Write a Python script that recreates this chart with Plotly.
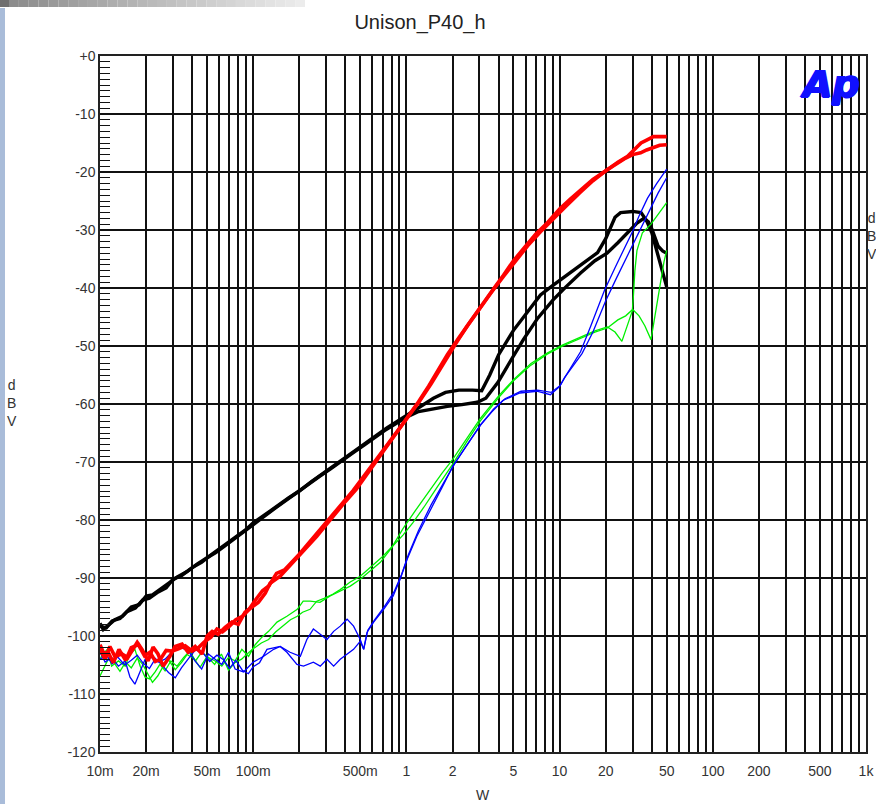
import plotly.graph_objects as go

# ---------------------------------------------------------------- data (W, dBV)
BLACK_A_W = [0.01, 0.011, 0.012, 0.0135, 0.015, 0.017, 0.019, 0.021, 0.024, 0.027, 0.03, 0.034,
             0.04, 0.046, 0.052, 0.06, 0.07, 0.08, 0.09, 0.1, 0.12, 0.14, 0.17, 0.2, 0.24, 0.28,
             0.33, 0.4, 0.47, 0.55, 0.65, 0.75, 0.85, 1.0, 1.2, 1.5, 1.8, 2.2, 2.7, 3.1, 3.5, 4.0,
             5.0, 6.0, 7.5, 9.0, 11.3, 14, 17.7, 20, 21.5, 23, 25, 30, 34, 37, 40, 43, 46, 50]
BLACK_A_DB = [-98.3, -98.6, -97.4, -97.0, -95.8, -95.2, -93.8, -93.5, -92.4, -91.7, -90.2, -89.6,
              -88.2, -87.3, -86.2, -85.0, -83.8, -82.6, -81.6, -80.5, -79.1, -77.8, -76.2, -75.0,
              -73.4, -72.1, -70.8, -69.2, -67.9, -66.6, -65.2, -64.1, -63.2, -62.0, -60.6, -59.0,
              -58.0, -57.6, -57.6, -57.7, -55.0, -51.5, -47.3, -44.5, -41.2, -39.6, -37.7, -35.9,
              -33.9, -31.5, -29.5, -27.8, -27.0, -26.8, -27.0, -28.4, -30.5, -33.5, -36.8, -39.8]

BLACK_B_W = [0.01, 0.0105, 0.0115, 0.0125, 0.014, 0.016, 0.018, 0.02, 0.022, 0.025, 0.028, 0.032,
             0.037, 0.043, 0.05, 0.057, 0.065, 0.075, 0.085, 0.1, 0.115, 0.135, 0.16, 0.19, 0.23,
             0.27, 0.32, 0.38, 0.45, 0.53, 0.62, 0.72, 0.85, 1.0, 1.2, 1.5, 1.85, 2.3, 2.9, 3.3,
             3.95, 4.8, 5.8, 7.2, 9.1, 11, 13.7, 17, 20.4, 24, 28.9, 32, 35.5, 38, 40, 42, 44, 47, 50]
BLACK_B_DB = [-97.8, -98.9, -98.0, -97.2, -96.6, -95.0, -94.6, -93.1, -92.9, -91.9, -91.0, -89.8,
              -88.9, -87.6, -86.5, -85.6, -84.5, -83.3, -82.3, -80.8, -79.6, -78.2, -76.8, -75.3,
              -73.8, -72.5, -71.2, -69.7, -68.4, -67.1, -65.8, -64.6, -63.4, -62.3, -61.3, -60.8,
              -60.4, -60.1, -59.7, -59.0, -56.3, -52.5, -48.9, -45.2, -42.0, -39.8, -37.4, -35.3,
              -34.0, -32.2, -30.0, -28.8, -28.0, -28.6, -29.8, -31.5, -32.8, -33.6, -34.0]

RED_A_W = [0.01, 0.0108, 0.0116, 0.0125, 0.0139, 0.0152, 0.0175, 0.0188, 0.0206, 0.0222, 0.0239,
           0.0258, 0.0286, 0.0309, 0.0343, 0.0376, 0.0418, 0.0464, 0.050, 0.054, 0.059, 0.0656,
           0.0727, 0.080, 0.0885, 0.0985, 0.108, 0.12, 0.129, 0.15, 0.169, 0.194, 0.23, 0.26, 0.3,
           0.35, 0.4, 0.47, 0.55, 0.65, 0.78, 0.9, 1.0, 1.2, 1.4, 1.6, 1.85, 2.2, 2.6, 3.04, 3.6,
           4.3, 5.0, 6.0, 7.0, 8.3, 10, 11.7, 13.7, 16.5, 20.5, 24, 27.8, 31, 34, 37, 41, 45, 50]
RED_A_DB = [-102.3, -104.0, -101.8, -103.5, -103.1, -103.7, -101.1, -102.3, -104.3, -101.9, -103.1,
            -105.2, -103.5, -101.8, -101.4, -102.8, -101.8, -103.1, -100.0, -99.2, -99.7, -98.5,
            -97.6, -98.0, -95.9, -95.0, -94.2, -92.6, -90.9, -89.7, -88.2, -86.6, -84.3, -82.8,
            -80.8, -78.6, -76.8, -74.7, -72.2, -69.5, -66.6, -64.1, -62.5, -59.6, -56.9, -54.4,
            -51.5, -48.6, -45.8, -43.2, -40.6, -37.8, -35.3, -32.8, -30.7, -28.8, -26.4, -24.7,
            -23.1, -21.3, -19.6, -18.3, -17.3, -16.0, -15.0, -14.5, -13.9, -13.9, -13.9]

RED_B_W = [0.01, 0.0106, 0.0113, 0.0122, 0.0133, 0.0147, 0.016, 0.0178, 0.0195, 0.0212, 0.023,
           0.0248, 0.027, 0.0295, 0.0325, 0.036, 0.04, 0.044, 0.048, 0.053, 0.058, 0.063, 0.07,
           0.077, 0.085, 0.094, 0.104, 0.115, 0.127, 0.142, 0.16, 0.18, 0.2, 0.23, 0.27, 0.32,
           0.38, 0.45, 0.53, 0.62, 0.72, 0.85, 1.0, 1.2, 1.45, 1.75, 2.1, 2.5, 3.0, 3.6, 4.3, 5.1,
           6.2, 7.5, 9.0, 11, 13.5, 16.5, 20, 24, 27, 30, 33.8, 37, 41, 45, 50]
RED_B_DB = [-101.5, -103.0, -102.8, -104.6, -102.3, -104.2, -102.0, -101.5, -103.4, -102.8, -104.4,
            -104.0, -102.5, -102.6, -102.2, -101.7, -102.6, -102.0, -101.0, -100.2, -98.8, -99.3,
            -98.3, -97.2, -96.6, -95.4, -93.7, -92.2, -91.3, -89.2, -88.6, -87.2, -85.9, -84.0,
            -81.8, -79.6, -77.3, -74.9, -72.4, -70.0, -67.7, -65.1, -62.7, -59.8, -56.5, -52.9,
            -49.6, -46.5, -43.5, -40.7, -38.0, -35.5, -32.7, -30.3, -28.1, -25.9, -23.6, -21.5,
            -19.8, -18.4, -17.6, -17.0, -16.7, -16.2, -15.7, -15.4, -15.3]

GREEN_A_W = [0.01, 0.0105, 0.0112, 0.0119, 0.0132, 0.0146, 0.0157, 0.0169, 0.0183, 0.0197, 0.0211,
             0.0229, 0.0246, 0.0266, 0.029, 0.0318, 0.0352, 0.0385, 0.042, 0.0461, 0.051, 0.0564,
             0.0624, 0.069, 0.0762, 0.0843, 0.0933, 0.103, 0.114, 0.126, 0.143, 0.166, 0.194,
             0.212, 0.235, 0.273, 0.318, 0.37, 0.43, 0.5, 0.582, 0.676, 0.8, 0.95, 1.15, 1.43, 1.7,
             2.0, 2.5, 3.04, 4.0, 5.0, 6.5, 8.3, 10.5, 13.7, 17, 20.5, 23, 25.5, 28.5, 29.8, 30.3,
             31, 32, 34.7, 39.5, 44, 50]
GREEN_A_DB = [-104.0, -103.0, -102.3, -105.2, -104.3, -105.2, -103.1, -102.3, -105.2, -107.1,
              -107.4, -106.2, -104.9, -106.0, -104.3, -105.2, -103.7, -102.6, -104.3, -102.8,
              -103.7, -104.3, -105.2, -103.7, -104.3, -102.3, -103.5, -101.5, -100.2, -99.2, -97.6,
              -96.6, -95.4, -94.0, -94.0, -94.2, -93.1, -92.3, -91.4, -90.2, -88.8, -87.3, -84.8,
              -81.5, -78.3, -74.7, -72.0, -69.6, -65.8, -62.5, -58.6, -55.8, -53.0, -51.2, -49.8,
              -48.4, -47.4, -46.7, -47.6, -49.2, -45.5, -44.0, -41.5, -37.0, -33.5, -30.5, -29.0,
              -27.3, -25.3]

GREEN_B_W = [0.01, 0.0106, 0.0115, 0.0125, 0.0135, 0.0147, 0.016, 0.0175, 0.019, 0.0205, 0.022,
             0.0238, 0.026, 0.028, 0.031, 0.034, 0.037, 0.041, 0.045, 0.05, 0.056, 0.062, 0.069,
             0.076, 0.084, 0.0912, 0.1, 0.113, 0.126, 0.14, 0.155, 0.175, 0.194, 0.21, 0.235, 0.26,
             0.29, 0.33, 0.37, 0.43, 0.5, 0.59, 0.7, 0.82, 0.95, 1.1, 1.3, 1.6, 2.0, 2.5, 3.04, 4.0,
             5.0, 6.5, 8.3, 10.5, 13.7, 17, 20.5, 24, 27, 30, 33, 36, 39.5, 42, 45.7, 48, 50]
GREEN_B_DB = [-106.9, -105.5, -103.6, -104.8, -106.1, -104.5, -105.5, -103.8, -104.9, -106.5,
              -108.0, -106.9, -105.1, -104.1, -105.8, -104.6, -103.2, -103.9, -105.4, -103.5,
              -104.9, -103.1, -105.9, -104.6, -104.0, -103.1, -102.2, -101.2, -100.6, -99.3, -98.3,
              -97.2, -96.6, -95.9, -95.4, -94.0, -93.5, -92.8, -92.0, -90.7, -89.7, -88.0, -86.3,
              -84.4, -82.6, -80.5, -77.8, -74.2, -70.4, -66.3, -62.9, -58.9, -56.0, -53.3, -51.4,
              -50.0, -48.6, -47.6, -46.9, -45.5, -44.8, -43.7, -44.8, -46.5, -48.9, -44.5, -39.0,
              -35.5, -33.5]

BLUE_A_W = [0.01, 0.0108, 0.0119, 0.0132, 0.0146, 0.0157, 0.0169, 0.0183, 0.0197, 0.0218, 0.024,
            0.0266, 0.0294, 0.0333, 0.0378, 0.0417, 0.0461, 0.051, 0.0564, 0.0624, 0.069, 0.0762,
            0.0865, 0.1, 0.117, 0.136, 0.15, 0.166, 0.193, 0.213, 0.247, 0.274, 0.303, 0.335, 0.37,
            0.41, 0.452, 0.5, 0.526, 0.553, 0.611, 0.71, 0.82, 0.91, 1.01, 1.17, 1.43, 1.7, 2.0,
            2.5, 3.04, 3.6, 4.26, 5.5, 7.1, 8.7, 10, 10.6, 12, 13.7, 16, 19.7, 23, 26.4, 30, 33,
            37.5, 43, 50]
BLUE_A_DB = [-102.8, -104.5, -103.7, -105.2, -104.3, -107.1, -108.3, -106.2, -104.0, -103.7, -104.5,
             -104.0, -102.8, -101.9, -102.6, -104.3, -105.7, -103.1, -104.0, -104.9, -102.8, -105.7,
             -106.2, -104.5, -103.5, -102.3, -101.8, -102.8, -104.9, -105.2, -104.5, -105.2, -104.0,
             -105.2, -104.0, -103.1, -102.3, -100.9, -102.3, -99.4, -97.6, -95.4, -93.1, -90.2,
             -86.8, -82.8, -78.2, -74.5, -70.8, -67.0, -63.6, -61.4, -59.4, -58.1, -57.8, -58.4,
             -57.0, -55.8, -53.5, -51.0, -46.5, -40.3, -36.5, -33.2, -30.2, -27.6, -24.5, -22.0,
             -19.5]

BLUE_B_W = [0.01, 0.011, 0.012, 0.013, 0.0145, 0.016, 0.0175, 0.019, 0.021, 0.023, 0.025, 0.028,
            0.031, 0.034, 0.038, 0.042, 0.047, 0.052, 0.058, 0.064, 0.07, 0.077, 0.085, 0.093, 0.1,
            0.11, 0.123, 0.15, 0.174, 0.203, 0.224, 0.247, 0.274, 0.303, 0.335, 0.37, 0.41, 0.452,
            0.5, 0.526, 0.56, 0.62, 0.72, 0.83, 0.93, 1.03, 1.2, 1.45, 1.75, 2.1, 2.6, 3.1, 3.7,
            4.4, 5.6, 7.2, 8.8, 10.1, 10.8, 12.2, 14, 16.5, 20, 23.5, 27, 30.5, 34, 38, 44, 50]
BLUE_B_DB = [-104.0, -103.3, -104.8, -103.6, -105.0, -104.2, -103.3, -104.6, -105.6, -103.9, -104.8,
             -106.3, -107.2, -105.5, -103.8, -102.4, -102.9, -104.4, -103.3, -104.1, -105.6, -104.2,
             -105.9, -106.5, -105.3, -104.6, -102.3, -101.8, -102.8, -103.5, -100.6, -98.8, -99.7,
             -100.6, -99.2, -98.3, -97.1, -98.3, -100.6, -102.3, -99.0, -97.2, -94.9, -92.4, -89.4,
             -86.0, -81.8, -77.4, -73.6, -70.0, -66.3, -63.4, -60.9, -59.1, -57.8, -57.6, -58.0,
             -56.8, -55.4, -53.4, -51.3, -47.6, -42.2, -38.3, -35.0, -32.2, -29.6, -26.8, -23.6,
             -21.0]

# axis labelling
X_LABELED = {0.01: "10m", 0.02: "20m", 0.05: "50m", 0.1: "100m", 0.5: "500m", 1: "1", 2: "2",
             5: "5", 10: "10", 20: "20", 50: "50", 100: "100", 200: "200", 500: "500", 1000: "1k"}
Y_TICK_VALUES = [0, -10, -20, -30, -40, -50, -60, -70, -80, -90, -100, -110, -120]
Y_TICK_TEXT = ["+0", "-10", "-20", "-30", "-40", "-50", "-60", "-70", "-80", "-90", "-100",
               "-110", "-120"]
TITLE = "Unison_P40_h"

# ---------------------------------------------------------------- figure
W_PX, H_PX = 876, 804
M_L, M_R, M_T, M_B = 100, 10, 56, 52
PLOT_W, PLOT_H = W_PX - M_L - M_R, H_PX - M_T - M_B


def px_x(x):
    return (x - M_L) / PLOT_W


def px_y(y):
    return (H_PX - M_B - y) / PLOT_H


FONT = "Liberation Sans, Arial, sans-serif"

fig = go.Figure()

series = [
    (BLACK_A_W, BLACK_A_DB, "#000000", 3.4),
    (BLACK_B_W, BLACK_B_DB, "#000000", 3.4),
    (GREEN_A_W, GREEN_A_DB, "#00f000", 1.3),
    (GREEN_B_W, GREEN_B_DB, "#00f000", 1.3),
    (BLUE_A_W, BLUE_A_DB, "#0000ff", 1.3),
    (BLUE_B_W, BLUE_B_DB, "#0000ff", 1.3),
    (RED_A_W, RED_A_DB, "#ff0000", 3.6),
    (RED_B_W, RED_B_DB, "#ff0000", 3.6),
]
for xs, ys, col, lw in series:
    fig.add_trace(go.Scatter(x=xs, y=ys, mode="lines",
                             line=dict(color=col, width=lw), hoverinfo="skip"))

x_grid = [m * 10 ** d for d in range(-2, 3) for m in range(1, 10)] + [1000]
x_text = []
for v in x_grid:
    lab = ""
    for k, t in X_LABELED.items():
        if abs(v - k) < 1e-9 * max(1, k):
            lab = t
    x_text.append(lab)

fig.update_xaxes(
    type="log", range=[-2, 3], tickvals=x_grid, ticktext=x_text, automargin=False,
    showgrid=True, gridcolor="#111111", gridwidth=1.7,
    showline=True, linecolor="#222222", linewidth=1.5, mirror=True,
    ticks="", ticklabelstandoff=5, tickfont=dict(family=FONT, size=14, color="#333333"),
    zeroline=False,
)
fig.update_yaxes(
    range=[-120, 0], tickvals=Y_TICK_VALUES, ticktext=Y_TICK_TEXT, automargin=False,
    showgrid=True, gridcolor="#111111", gridwidth=1.7,
    showline=True, linecolor="#222222", linewidth=1.5, mirror=True,
    ticks="inside", ticklen=10, tickwidth=1.5, tickcolor="#111111",
    minor=dict(dtick=1, ticks="inside", ticklen=10, tickwidth=1.3,
               tickcolor="#111111", showgrid=False),
    tickfont=dict(family=FONT, size=14, color="#333333"),
    zeroline=False,
)

shapes = []
# light blue band down the left edge of the page
shapes.append(dict(type="rect", xref="paper", yref="paper",
                   x0=px_x(0), x1=px_x(5), y0=px_y(H_PX), y1=px_y(8),
                   fillcolor="#a9bcd9", line=dict(width=0), layer="above"))
# grey fading strip along the top-left of the page
shapes.append(dict(type="rect", xref="paper", yref="paper",
                   x0=px_x(0), x1=px_x(9), y0=px_y(7), y1=px_y(0),
                   fillcolor="#707070", line=dict(width=0), layer="above"))
n_steps = 30
for i in range(n_steps):
    x0 = 9 + i * (296 / n_steps)
    x1 = 9 + (i + 1) * (296 / n_steps)
    g = int(140 + (236 - 140) * i / (n_steps - 1))
    shapes.append(dict(type="rect", xref="paper", yref="paper",
                       x0=px_x(x0), x1=px_x(x1), y0=px_y(7), y1=px_y(0),
                       fillcolor=f"rgb({g},{g},{g})", line=dict(width=0), layer="above"))

LABEL_FONT = dict(family=FONT, size=14, color="#333333")
annotations = [
    dict(text="d<br>B<br>V", xref="paper", yref="paper", x=px_x(12), y=px_y(403),
         xanchor="center", yanchor="middle", showarrow=False, font=LABEL_FONT, align="center"),
    dict(text="d<br>B<br>V", xref="paper", yref="paper", x=px_x(872), y=px_y(236),
         xanchor="center", yanchor="middle", showarrow=False, font=LABEL_FONT, align="center"),
    dict(text="W", xref="paper", yref="paper", x=px_x(483), y=px_y(795),
         xanchor="center", yanchor="middle", showarrow=False, font=LABEL_FONT),
    dict(text="<b><i>Ap</i></b>", xref="paper", yref="paper", x=px_x(862), y=px_y(84),
         xanchor="right", yanchor="middle", showarrow=False,
         font=dict(family="DejaVu Sans, sans-serif", size=38, color="#1010ff",
                   shadow="1px 0px 0px #1010ff, -1px 0px 0px #1010ff, 0px 1px 0px #1010ff")),
]

fig.update_layout(
    width=W_PX, height=H_PX,
    margin=dict(l=M_L, r=M_R, t=M_T, b=M_B, autoexpand=False),
    paper_bgcolor="white", plot_bgcolor="white",
    showlegend=False,
    title=dict(text=TITLE, x=420 / W_PX, xanchor="center", y=1 - 22 / H_PX, yanchor="middle",
               font=dict(family=FONT, size=20, color="#222222")),
    shapes=shapes,
    annotations=annotations,
)

fig.write_html("out.html")
